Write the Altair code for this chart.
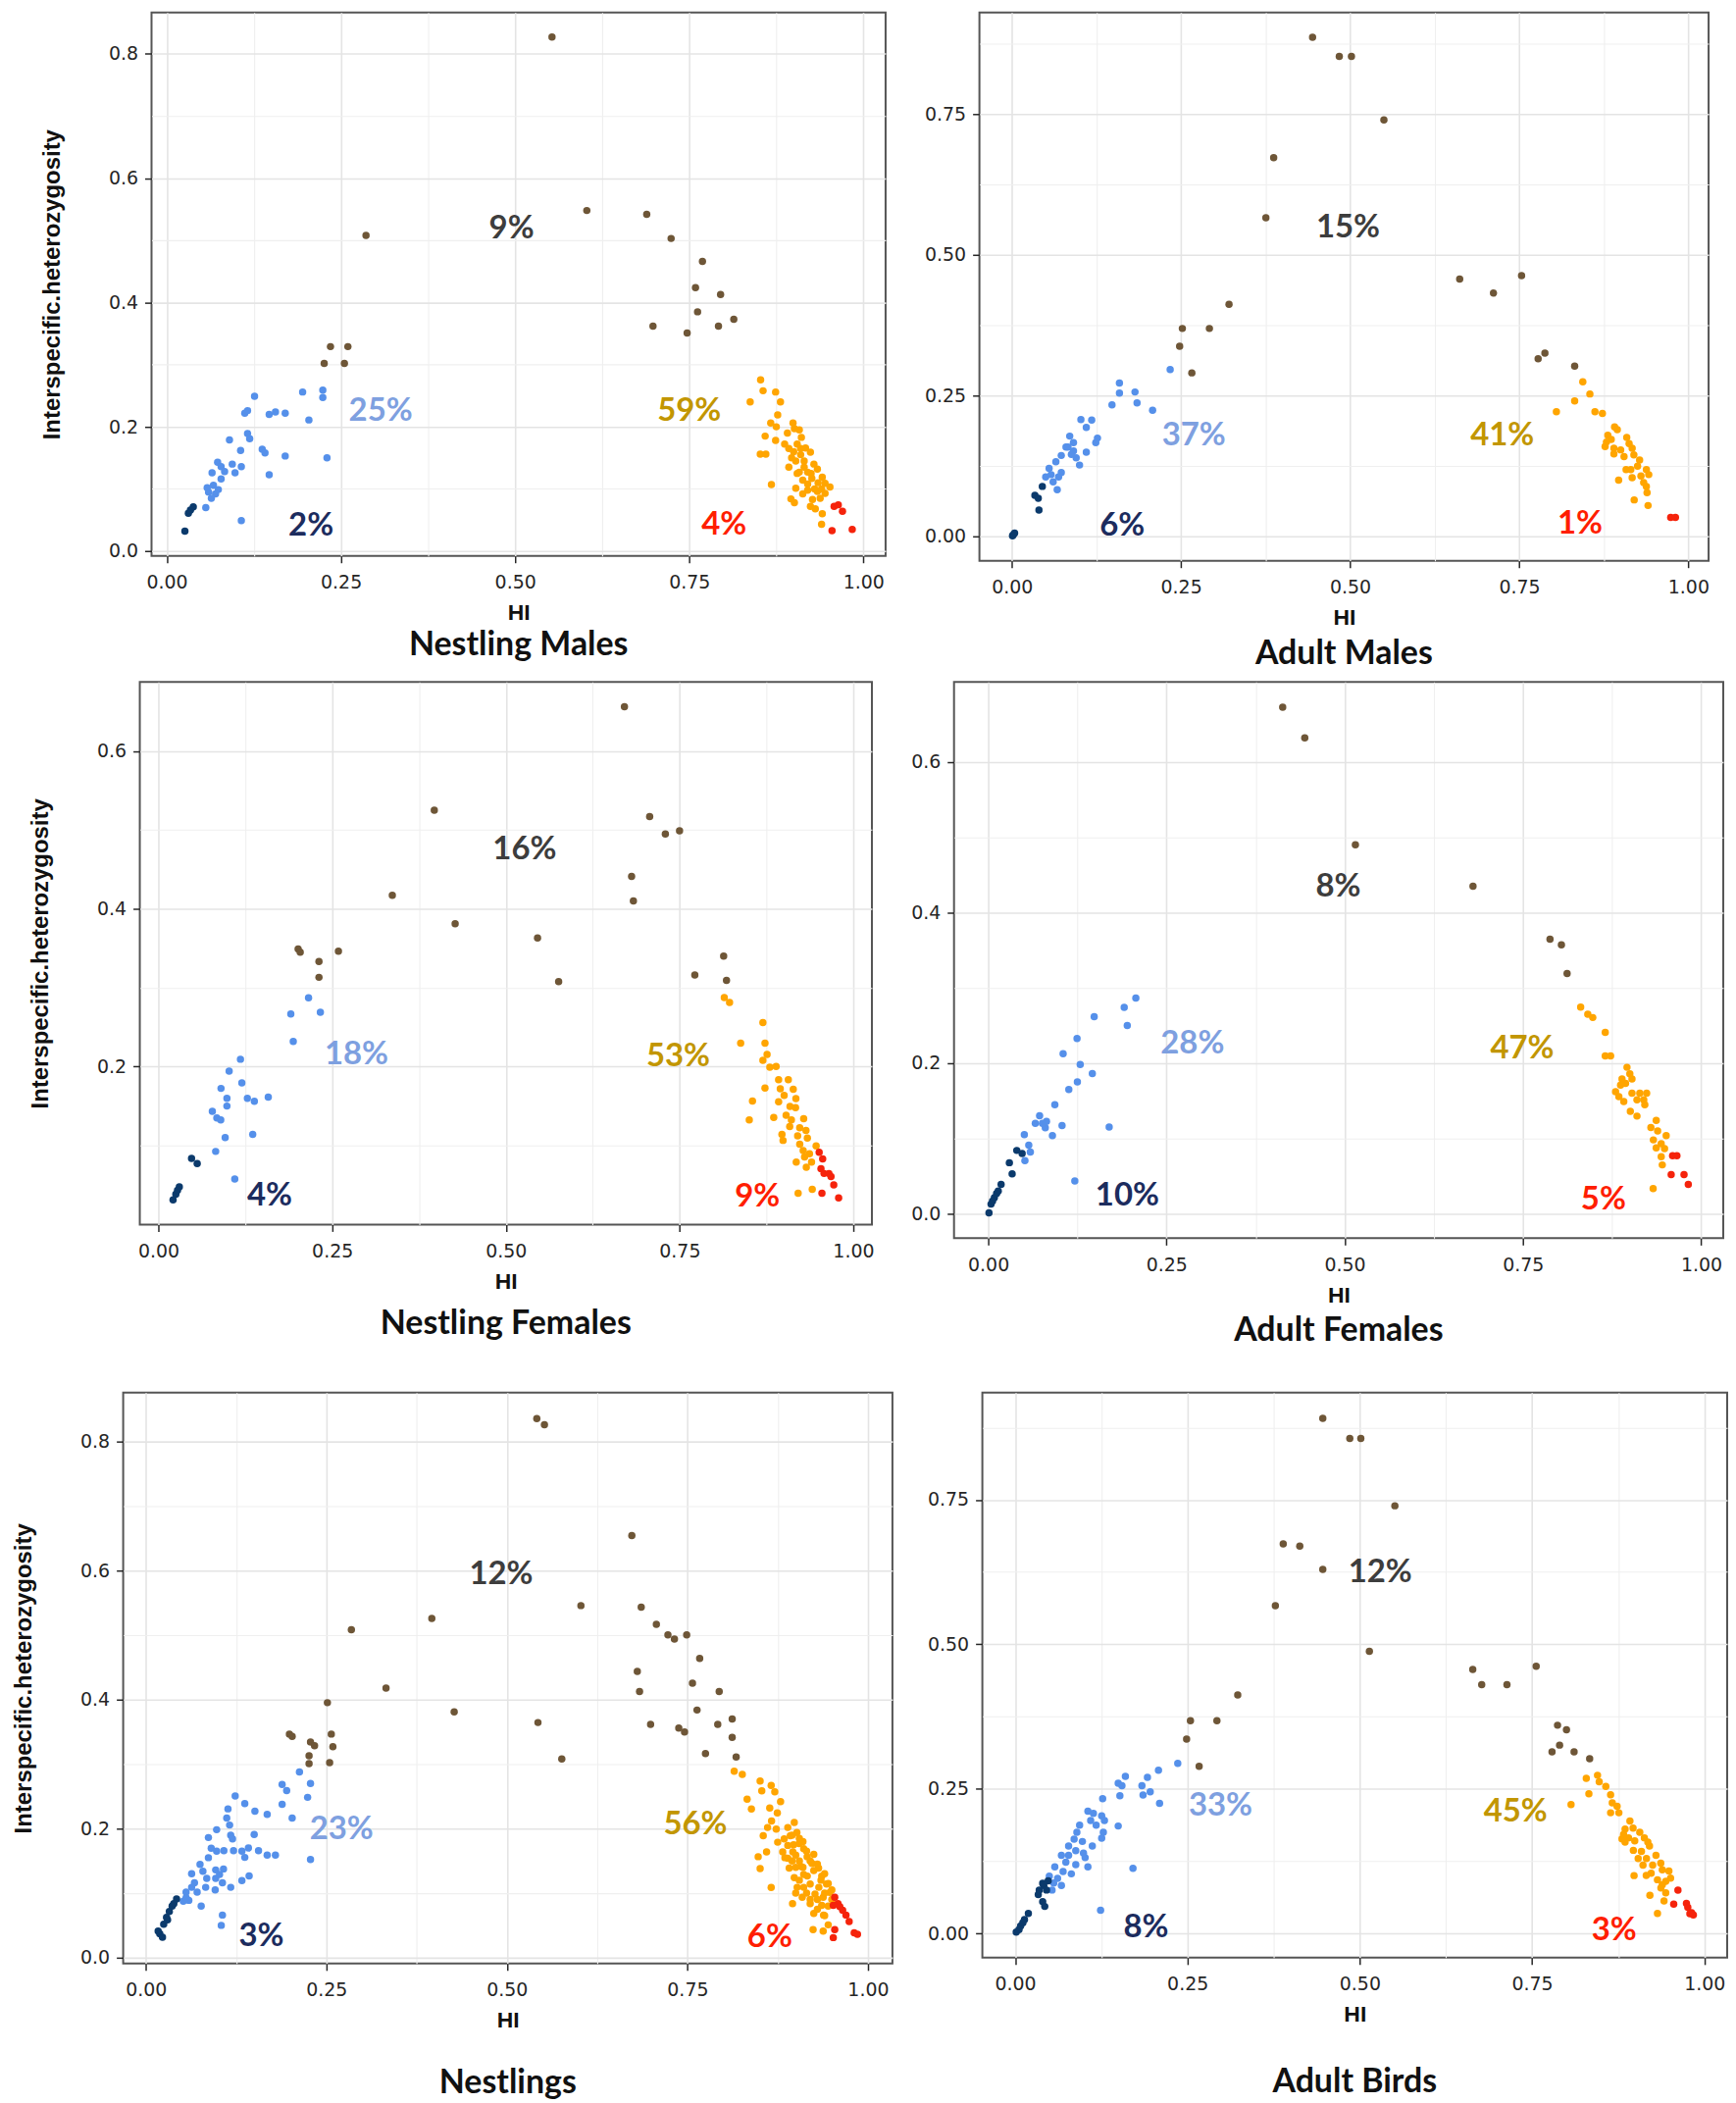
import altair as alt
import pandas as pd

# ---------------- colours ----------------
GROUPS = ["navy", "blue", "brown", "orange", "red"]
POINT_COLORS = ["#0b3a6c", "#5590ea", "#6e5637", "#ffa500", "#f5230b"]
LABEL_COLORS = ["#1c2c5e", "#7ea0e0", "#3d3d3d", "#c29600", "#ff1e00"]
DRAW_ORDER = {"blue": 0, "navy": 1, "brown": 2, "orange": 3, "red": 4}

X_MAJOR = [0.0, 0.25, 0.5, 0.75, 1.0]
X_MINOR = [0.125, 0.375, 0.625, 0.875]

# ---------------- Nestling Males ----------------
NM_NAVY = [(0.026, 0.032), (0.031, 0.061), (0.034, 0.066), (0.038, 0.071)]
NM_BLUE = [(0.126, 0.249), (0.195, 0.256), (0.224, 0.259), (0.224, 0.247), (0.112, 0.222), (0.116, 0.226),
           (0.147, 0.220), (0.156, 0.224), (0.170, 0.222), (0.204, 0.211), (0.090, 0.179), (0.116, 0.189),
           (0.119, 0.181), (0.106, 0.162), (0.137, 0.164), (0.141, 0.158), (0.170, 0.153), (0.230, 0.150),
           (0.073, 0.143), (0.078, 0.136), (0.065, 0.126), (0.094, 0.140), (0.107, 0.136), (0.098, 0.126),
           (0.147, 0.123), (0.058, 0.102), (0.067, 0.106), (0.070, 0.092), (0.064, 0.085), (0.056, 0.070),
           (0.107, 0.049), (0.078, 0.116), (0.074, 0.099), (0.060, 0.095), (0.083, 0.128)]
NM_BROWN = [(0.553, 0.827), (0.603, 0.548), (0.689, 0.542), (0.724, 0.503), (0.769, 0.466), (0.759, 0.424),
            (0.795, 0.413), (0.762, 0.385), (0.814, 0.373), (0.698, 0.362), (0.792, 0.362), (0.747, 0.351),
            (0.286, 0.508), (0.235, 0.329), (0.260, 0.329), (0.226, 0.302), (0.255, 0.302)]
NM_ORANGE = [(0.8525, 0.2756), (0.856, 0.258), (0.874, 0.256), (0.8375, 0.240), (0.881, 0.240), (0.877, 0.219),
             (0.867, 0.206), (0.875, 0.200), (0.899, 0.206), (0.901, 0.197), (0.859, 0.185), (0.874, 0.178),
             (0.891, 0.190), (0.908, 0.195), (0.911, 0.183), (0.852, 0.156), (0.860, 0.156), (0.887, 0.172),
             (0.893, 0.165), (0.905, 0.172), (0.917, 0.166), (0.924, 0.159), (0.893, 0.135), (0.903, 0.145),
             (0.915, 0.145), (0.929, 0.140), (0.934, 0.132), (0.908, 0.127), (0.920, 0.127), (0.913, 0.114),
             (0.926, 0.117), (0.941, 0.119), (0.945, 0.109), (0.952, 0.103), (0.903, 0.101), (0.920, 0.098),
             (0.934, 0.096), (0.945, 0.093), (0.868, 0.107), (0.896, 0.084), (0.901, 0.078), (0.924, 0.072),
             (0.931, 0.068), (0.941, 0.060), (0.940, 0.043), (0.927, 0.083), (0.913, 0.092), (0.938, 0.085),
             (0.897, 0.150), (0.910, 0.155), (0.915, 0.135), (0.925, 0.125), (0.935, 0.110), (0.920, 0.108),
             (0.905, 0.125), (0.930, 0.100), (0.940, 0.100), (0.910, 0.165), (0.900, 0.160)]
NM_RED = [(0.958, 0.072), (0.964, 0.0745), (0.970, 0.064), (0.955, 0.033), (0.984, 0.035)]
NM_LABELS = [("2%", "navy", 0.207, 0.040), ("25%", "blue", 0.307, 0.226), ("9%", "brown", 0.495, 0.519),
             ("59%", "orange", 0.750, 0.225), ("4%", "red", 0.800, 0.042)]

# ---------------- Adult Males ----------------
AM_NAVY = [(0.045, 0.088), (0.034, 0.072), (0.039, 0.067), (0.040, 0.046), (0.001, 0.000), (0.004, 0.005),
           (0.002, 0.002)]
AM_BLUE = [(0.234, 0.296), (0.159, 0.272), (0.159, 0.254), (0.182, 0.256), (0.185, 0.2365), (0.148, 0.233),
           (0.208, 0.2235), (0.102, 0.207), (0.118, 0.206), (0.110, 0.193), (0.1265, 0.174), (0.124, 0.166),
           (0.0855, 0.1775), (0.091, 0.166), (0.080, 0.158), (0.091, 0.151), (0.110, 0.149), (0.073, 0.143),
           (0.095, 0.139), (0.100, 0.126), (0.065, 0.132), (0.055, 0.120), (0.073, 0.1125), (0.050, 0.105),
           (0.061, 0.096), (0.067, 0.082), (0.083, 0.158), (0.088, 0.145), (0.069, 0.105), (0.058, 0.109)]
AM_BROWN = [(0.4445, 0.887), (0.484, 0.853), (0.502, 0.853), (0.550, 0.740), (0.387, 0.673), (0.3755, 0.566),
            (0.662, 0.457), (0.712, 0.432), (0.7535, 0.463), (0.321, 0.412), (0.252, 0.369), (0.292, 0.369),
            (0.248, 0.3375), (0.266, 0.290), (0.778, 0.315), (0.788, 0.325), (0.832, 0.302)]
AM_ORANGE = [(0.844, 0.274), (0.8545, 0.2525), (0.832, 0.240), (0.862, 0.221), (0.873, 0.218), (0.891, 0.194),
             (0.895, 0.189), (0.881, 0.179), (0.879, 0.167), (0.886, 0.1715), (0.909, 0.175), (0.9125, 0.164),
             (0.877, 0.159), (0.890, 0.156), (0.900, 0.153), (0.917, 0.156), (0.890, 0.146), (0.905, 0.141),
             (0.9195, 0.144), (0.928, 0.135), (0.908, 0.118), (0.915, 0.118), (0.925, 0.124), (0.938, 0.118),
             (0.9415, 0.109), (0.917, 0.1035), (0.930, 0.1065), (0.897, 0.099), (0.934, 0.095), (0.938, 0.088),
             (0.939, 0.077), (0.920, 0.064), (0.9405, 0.054), (0.805, 0.221)]
AM_RED = [(0.974, 0.033), (0.981, 0.033)]
AM_LABELS = [("6%", "navy", 0.163, 0.018), ("37%", "blue", 0.269, 0.178), ("15%", "brown", 0.497, 0.549),
             ("41%", "orange", 0.725, 0.178), ("1%", "red", 0.840, 0.021)]

# ---------------- Nestling Females ----------------
NF_NAVY = [(0.0476, 0.083), (0.0557, 0.0765), (0.030, 0.047), (0.025, 0.0377), (0.021, 0.0305), (0.0274, 0.0427)]
NF_BLUE = [(0.216, 0.287), (0.1905, 0.2665), (0.233, 0.2687), (0.194, 0.2316), (0.118, 0.209), (0.1017, 0.194),
           (0.120, 0.179), (0.090, 0.172), (0.0985, 0.1595), (0.0985, 0.1496), (0.128, 0.1595), (0.138, 0.1557),
           (0.158, 0.161), (0.0775, 0.143), (0.084, 0.1346), (0.0896, 0.132), (0.096, 0.1097), (0.1356, 0.1136),
           (0.0823, 0.092), (0.1098, 0.057)]
NF_BROWN = [(0.6707, 0.6565), (0.397, 0.525), (0.707, 0.517), (0.7296, 0.495), (0.750, 0.499), (0.681, 0.441),
            (0.6836, 0.410), (0.3366, 0.417), (0.427, 0.381), (0.5456, 0.363), (0.576, 0.3075), (0.201, 0.349),
            (0.204, 0.345), (0.231, 0.333), (0.259, 0.346), (0.231, 0.313), (0.772, 0.316), (0.8135, 0.340),
            (0.8176, 0.309)]
NF_ORANGE = [(0.8144, 0.2874), (0.822, 0.281), (0.870, 0.2556), (0.838, 0.2295), (0.873, 0.2295), (0.876, 0.215),
             (0.870, 0.2076), (0.880, 0.199), (0.889, 0.1998), (0.8926, 0.183), (0.9066, 0.183), (0.873, 0.1724),
             (0.895, 0.1715), (0.9137, 0.171), (0.9006, 0.163), (0.9175, 0.159), (0.855, 0.156), (0.8926, 0.155),
             (0.909, 0.149), (0.917, 0.1475), (0.9034, 0.138), (0.8504, 0.132), (0.8856, 0.135), (0.911, 0.132),
             (0.9287, 0.1335), (0.9086, 0.1235), (0.923, 0.122), (0.932, 0.1185), (0.8974, 0.1136), (0.899, 0.106),
             (0.920, 0.1118), (0.934, 0.109), (0.923, 0.1012), (0.928, 0.093), (0.9466, 0.099), (0.918, 0.0785),
             (0.9325, 0.072), (0.940, 0.0785), (0.9207, 0.039), (0.941, 0.044), (0.937, 0.089), (0.930, 0.085)]
NF_RED = [(0.951, 0.091), (0.956, 0.0826), (0.9536, 0.070), (0.958, 0.064), (0.965, 0.064), (0.968, 0.060),
          (0.972, 0.0496), (0.955, 0.039), (0.979, 0.033)]
NF_LABELS = [("4%", "navy", 0.160, 0.036), ("18%", "blue", 0.285, 0.215), ("16%", "brown", 0.527, 0.475),
             ("53%", "orange", 0.748, 0.212), ("9%", "red", 0.862, 0.034)]

# ---------------- Adult Females ----------------
AF_NAVY = [(0.040, 0.084), (0.0475, 0.080), (0.0296, 0.0677), (0.0335, 0.053), (0.018, 0.039), (0.014, 0.030),
           (0.0086, 0.0214), (0.0039, 0.0127), (0.001, 0.001), (0.0117, 0.027), (0.006, 0.0168)]
AF_BLUE = [(0.207, 0.2865), (0.1907, 0.274), (0.195, 0.250), (0.1486, 0.2616), (0.1245, 0.2326), (0.129, 0.198),
           (0.146, 0.186), (0.125, 0.175), (0.105, 0.2124), (0.113, 0.165), (0.0934, 0.1447), (0.1035, 0.117),
           (0.1696, 0.115), (0.072, 0.130), (0.0817, 0.1227), (0.066, 0.120), (0.080, 0.114), (0.090, 0.1036),
           (0.0506, 0.105), (0.0568, 0.091), (0.059, 0.082), (0.0514, 0.0706), (0.1214, 0.0434), (0.076, 0.120)]
AF_BROWN = [(0.413, 0.6725), (0.444, 0.632), (0.515, 0.490), (0.680, 0.435), (0.788, 0.3646), (0.804, 0.357),
            (0.812, 0.319)]
AF_ORANGE = [(0.831, 0.2744), (0.841, 0.265), (0.848, 0.2605), (0.8655, 0.2407), (0.8655, 0.2096), (0.873, 0.2096),
             (0.896, 0.1944), (0.900, 0.1857), (0.889, 0.179), (0.903, 0.179), (0.887, 0.1707), (0.894, 0.173),
             (0.880, 0.162), (0.8846, 0.1555), (0.903, 0.160), (0.914, 0.160), (0.9236, 0.160), (0.8915, 0.149),
             (0.910, 0.1513), (0.9195, 0.1513), (0.9007, 0.136), (0.910, 0.1296), (0.921, 0.1447), (0.937, 0.124),
             (0.9295, 0.1145), (0.939, 0.110), (0.951, 0.1037), (0.933, 0.098), (0.944, 0.093), (0.937, 0.0875),
             (0.9487, 0.0864), (0.944, 0.0757), (0.9455, 0.0648), (0.9327, 0.0333)]
AF_RED = [(0.960, 0.077), (0.966, 0.077), (0.958, 0.052), (0.976, 0.052), (0.982, 0.039)]
AF_LABELS = [("10%", "navy", 0.195, 0.024), ("28%", "blue", 0.2864, 0.226), ("8%", "brown", 0.491, 0.434),
             ("47%", "orange", 0.749, 0.219), ("5%", "red", 0.863, 0.019)]

# ---------------- Nestlings ----------------
N_NAVY = [(0.0425, 0.091), (0.0364, 0.080), (0.0325, 0.0716), (0.0286, 0.0623), (0.0247, 0.0516), (0.0193, 0.037),
          (0.023, 0.0315), (0.017, 0.041), (0.030, 0.0587), (0.0387, 0.0838)]
N_BLUE = [(0.2127, 0.288), (0.1887, 0.2686), (0.195, 0.259), (0.228, 0.270), (0.224, 0.2486), (0.1887, 0.2378),
          (0.1237, 0.2507), (0.137, 0.239), (0.168, 0.222), (0.151, 0.227), (0.2026, 0.2163), (0.1137, 0.2307),
          (0.112, 0.2163), (0.116, 0.2056), (0.098, 0.1984), (0.1175, 0.190), (0.120, 0.184), (0.150, 0.191),
          (0.0866, 0.1862), (0.228, 0.152), (0.168, 0.159), (0.1794, 0.159), (0.156, 0.166), (0.0905, 0.1698),
          (0.098, 0.165), (0.108, 0.166), (0.1214, 0.166), (0.133, 0.165), (0.142, 0.170), (0.137, 0.1554),
          (0.0866, 0.155), (0.075, 0.1447), (0.0634, 0.130), (0.079, 0.134), (0.0967, 0.136), (0.1075, 0.1375),
          (0.0843, 0.123), (0.0967, 0.123), (0.106, 0.116), (0.102, 0.129), (0.143, 0.1268), (0.133, 0.1196),
          (0.0828, 0.109), (0.0634, 0.109), (0.0557, 0.1017), (0.071, 0.1017), (0.0595, 0.0888), (0.0518, 0.0874),
          (0.0766, 0.080), (0.0557, 0.093), (0.106, 0.066), (0.1044, 0.050), (0.0673, 0.116), (0.096, 0.105),
          (0.1175, 0.109)]
N_BROWN = [(0.5414, 0.836), (0.552, 0.8266), (0.673, 0.6547), (0.6025, 0.546), (0.686, 0.5437), (0.707, 0.517),
           (0.723, 0.5007), (0.732, 0.494), (0.749, 0.5007), (0.767, 0.464), (0.6806, 0.444), (0.757, 0.4255),
           (0.6837, 0.4126), (0.794, 0.4126), (0.7633, 0.384), (0.812, 0.370), (0.699, 0.3617), (0.792, 0.3617),
           (0.738, 0.356), (0.746, 0.350), (0.812, 0.3417), (0.775, 0.3166), (0.8175, 0.311), (0.396, 0.526),
           (0.2846, 0.5086), (0.3326, 0.418), (0.427, 0.381), (0.543, 0.3646), (0.576, 0.308), (0.2514, 0.3954),
           (0.1988, 0.3467), (0.2026, 0.343), (0.228, 0.3345), (0.2336, 0.3288), (0.2568, 0.3467), (0.259, 0.327),
           (0.226, 0.313), (0.226, 0.3009), (0.2545, 0.3023)]
N_ORANGE = [(0.8148, 0.289), (0.826, 0.284), (0.8507, 0.274), (0.853, 0.2588), (0.866, 0.267), (0.871, 0.257),
            (0.8327, 0.2456), (0.8386, 0.2305), (0.879, 0.242), (0.864, 0.232), (0.8745, 0.2245), (0.8665, 0.212),
            (0.898, 0.2096), (0.861, 0.2018), (0.873, 0.1993), (0.889, 0.2018), (0.855, 0.189), (0.875, 0.179),
            (0.8925, 0.189), (0.9016, 0.194), (0.848, 0.1565), (0.8596, 0.164), (0.889, 0.174), (0.9046, 0.1767),
            (0.911, 0.169), (0.8507, 0.138), (0.889, 0.154), (0.900, 0.159), (0.9158, 0.1565), (0.9225, 0.146),
            (0.891, 0.139), (0.907, 0.1415), (0.9316, 0.139), (0.898, 0.124), (0.916, 0.1265), (0.936, 0.1264),
            (0.866, 0.1087), (0.902, 0.109), (0.920, 0.114), (0.9427, 0.114), (0.909, 0.0936), (0.9267, 0.0986),
            (0.947, 0.101), (0.8956, 0.0836), (0.920, 0.0836), (0.936, 0.081), (0.925, 0.0685), (0.9385, 0.066),
            (0.924, 0.0433), (0.938, 0.041), (0.945, 0.0508), (0.884, 0.184), (0.896, 0.164), (0.911, 0.129),
            (0.932, 0.109), (0.911, 0.109), (0.938, 0.0936), (0.882, 0.164),
            (0.895, 0.190), (0.905, 0.185), (0.897, 0.175), (0.910, 0.180), (0.915, 0.165), (0.920, 0.150),
            (0.930, 0.145), (0.925, 0.135), (0.940, 0.130), (0.935, 0.120), (0.945, 0.115), (0.950, 0.105),
            (0.940, 0.100), (0.930, 0.090), (0.915, 0.100), (0.905, 0.120), (0.900, 0.140), (0.895, 0.150),
            (0.885, 0.155), (0.950, 0.090), (0.945, 0.080), (0.930, 0.075), (0.940, 0.065), (0.920, 0.090),
            (0.900, 0.100), (0.910, 0.140), (0.925, 0.160), (0.905, 0.150)]
N_RED = [(0.954, 0.0936), (0.9585, 0.0836), (0.952, 0.081), (0.965, 0.0735), (0.9696, 0.066), (0.974, 0.056),
         (0.954, 0.0433), (0.952, 0.031), (0.981, 0.0383), (0.9855, 0.036), (0.961, 0.079)]
N_LABELS = [("3%", "navy", 0.160, 0.0335), ("23%", "blue", 0.271, 0.199), ("12%", "brown", 0.492, 0.595),
            ("56%", "orange", 0.761, 0.207), ("6%", "red", 0.864, 0.031)]

# ---------------- Adult Birds ----------------
AB_NAVY = [(0.048, 0.091), (0.0416, 0.083), (0.035, 0.075), (0.0336, 0.067), (0.040, 0.0547), (0.043, 0.0466),
           (0.0192, 0.0346), (0.0136, 0.024), (0.008, 0.0129), (0.0016, 0.0024), (0.0056, 0.0064), (0.0112, 0.0185),
           (0.0456, 0.075), (0.040, 0.0868)]
AB_BLUE = [(0.236, 0.294), (0.208, 0.282), (0.160, 0.2717), (0.1496, 0.2596), (0.155, 0.2556), (0.192, 0.270),
           (0.184, 0.2556), (0.196, 0.245), (0.1856, 0.2395), (0.2096, 0.225), (0.152, 0.238), (0.127, 0.233),
           (0.1056, 0.2114), (0.1136, 0.2074), (0.1256, 0.2034), (0.1096, 0.1953), (0.1296, 0.1953), (0.1496, 0.1857),
           (0.0896, 0.175), (0.128, 0.175), (0.1256, 0.1648), (0.0856, 0.163), (0.0976, 0.159), (0.112, 0.151),
           (0.0776, 0.151), (0.088, 0.143), (0.0672, 0.135), (0.1016, 0.131), (0.0736, 0.123), (0.088, 0.119),
           (0.1056, 0.115), (0.0576, 0.115), (0.0696, 0.107), (0.0816, 0.103), (0.0616, 0.095), (0.0496, 0.099),
           (0.056, 0.087), (0.0672, 0.083), (0.0536, 0.075), (0.171, 0.1125), (0.124, 0.040), (0.0776, 0.135),
           (0.0992, 0.139), (0.0936, 0.187), (0.1176, 0.187)]
AB_BROWN = [(0.4464, 0.8907), (0.4856, 0.856), (0.5016, 0.856), (0.551, 0.7395), (0.389, 0.6736), (0.413, 0.6696),
            (0.4464, 0.6294), (0.3776, 0.5667), (0.514, 0.488), (0.664, 0.4566), (0.677, 0.430), (0.7136, 0.430),
            (0.756, 0.462), (0.323, 0.4124), (0.2544, 0.368), (0.2928, 0.368), (0.2488, 0.336), (0.267, 0.289),
            (0.787, 0.360), (0.800, 0.352), (0.779, 0.314), (0.790, 0.3256), (0.811, 0.314), (0.8336, 0.302)]
AB_ORANGE = [(0.8287, 0.268), (0.845, 0.2735), (0.8475, 0.2623), (0.857, 0.254), (0.8325, 0.2413), (0.8066, 0.2227),
             (0.864, 0.2396), (0.8664, 0.2256), (0.8734, 0.220), (0.864, 0.2086), (0.876, 0.2086), (0.892, 0.1945),
             (0.885, 0.1803), (0.8966, 0.1822), (0.8805, 0.1634), (0.890, 0.1653), (0.9063, 0.1747), (0.913, 0.1653),
             (0.885, 0.1577), (0.899, 0.160), (0.918, 0.1578), (0.897, 0.1437), (0.9087, 0.1418), (0.9204, 0.151),
             (0.904, 0.1295), (0.916, 0.1295), (0.9298, 0.135), (0.911, 0.118), (0.925, 0.118), (0.9368, 0.1215),
             (0.9228, 0.104), (0.939, 0.110), (0.9486, 0.108), (0.898, 0.100), (0.9157, 0.1004), (0.932, 0.0928),
             (0.944, 0.090), (0.937, 0.0787), (0.944, 0.0702), (0.9415, 0.056), (0.921, 0.066), (0.932, 0.0346),
             (0.951, 0.0955), (0.939, 0.0843), (0.8828, 0.1709)]
AB_RED = [(0.9617, 0.0747), (0.9556, 0.0505), (0.974, 0.052), (0.976, 0.045), (0.9814, 0.036), (0.979, 0.034),
          (0.984, 0.032)]
AB_LABELS = [("8%", "navy", 0.190, 0.0105), ("33%", "blue", 0.298, 0.220), ("12%", "brown", 0.5296, 0.624),
             ("45%", "orange", 0.726, 0.2105), ("3%", "red", 0.869, 0.006)]

GRID_MAJOR = "#e4e4e4"
GRID_MINOR = "#efefef"
TEXT_DARK = "#262626"


def cond(test, yes, no):
    return {"condition": {"test": test, "value": yes}, "value": no}


def anchor(px, py):
    # invisible 1px text mark used only to fix the panel's layout bounds (top)
    return alt.Chart(pd.DataFrame({"a": [0]})).mark_text(
        text=".", fontSize=1, opacity=0, align="left", baseline="top").encode(
        x=alt.value(px), y=alt.value(py))


def make_panel(title, groups, labels, w, h, ymaj, ymin, k, yfmt, left, toff, anchors=()):
    rows = []
    for gname, pts in zip(GROUPS, groups):
        for (hx, hy) in pts:
            rows.append({"HI": hx, "het": hy, "grp": gname, "ord": DRAW_ORDER[gname]})
    df = pd.DataFrame(rows)
    xs, ys = df["HI"], df["het"]
    rx = xs.max() - xs.min()
    ry = ys.max() - ys.min()
    xdom = [float(xs.min() - 0.05 * rx), float(xs.max() + 0.05 * rx)]
    ydom = [float(ys.min() - 0.05 * ry), float(ys.max() + 0.05 * ry)]

    ltab = pd.DataFrame([{"t": t, "grp": g, "HI": x, "het": y} for (t, g, x, y) in labels])

    xtest = "abs(datum.value*4 - round(datum.value*4)) < 0.001"
    ytest = f"abs(datum.value*{k} - round(datum.value*{k})) < 0.001"

    xaxis = alt.Axis(
        values=sorted(X_MAJOR + X_MINOR), title="HI",
        labelExpr=f"({xtest}) ? format(datum.value, '.2f') : ''",
        tickOpacity=cond(xtest, 1, 0), gridColor=cond(xtest, GRID_MAJOR, GRID_MINOR),
        gridWidth=cond(xtest, 1.6, 1.1), labelOverlap=False, labelFlush=False,
        tickSize=7, tickWidth=1.5, tickColor=TEXT_DARK, labelPadding=11,
        labelFont="DejaVu Sans", labelFontSize=19, labelColor=TEXT_DARK,
        titleFont="Liberation Sans", titleFontSize=23, titleFontWeight="bold", titleColor="#111111",
        titlePadding=11, minExtent=36, maxExtent=36, domain=False)

    yargs = dict(
        values=sorted(ymaj + ymin),
        labelExpr=f"({ytest}) ? format(datum.value, '{yfmt}') : ''",
        tickOpacity=cond(ytest, 1, 0), gridColor=cond(ytest, GRID_MAJOR, GRID_MINOR),
        gridWidth=cond(ytest, 1.6, 1.1), labelOverlap=False, labelFlush=False,
        tickSize=7, tickWidth=1.5, tickColor=TEXT_DARK, labelPadding=7,
        labelFont="DejaVu Sans", labelFontSize=19, labelColor=TEXT_DARK, domain=False)
    if left:
        yaxis = alt.Axis(title="Interspecific.heterozygosity", titleFont="Liberation Sans", titleFontSize=24,
                         titleFontWeight="bold", titleColor="#111111", titlePadding=44,
                         minExtent=45, maxExtent=45, **yargs)
    else:
        yaxis = alt.Axis(title=None, minExtent=55, maxExtent=55, **yargs)

    xsc = alt.Scale(domain=xdom, nice=False, zero=False)
    ysc = alt.Scale(domain=ydom, nice=False, zero=False)

    pts = alt.Chart(df).mark_circle(size=56, opacity=1).encode(
        x=alt.X("HI:Q", scale=xsc, axis=xaxis),
        y=alt.Y("het:Q", scale=ysc, axis=yaxis),
        color=alt.Color("grp:N", scale=alt.Scale(domain=GROUPS, range=POINT_COLORS), legend=None),
        order=alt.Order("ord:Q"),
    )
    txt = alt.Chart(ltab).mark_text(font="Lato", fontSize=33, fontWeight="bold", align="center",
                                    baseline="middle").encode(
        x=alt.X("HI:Q", scale=xsc),
        y=alt.Y("het:Q", scale=ysc),
        text="t:N",
        color=alt.Color("grp:N", scale=alt.Scale(domain=GROUPS, range=LABEL_COLORS), legend=None),
    )
    layers = [pts, txt] + [anchor(ax, ay) for (ax, ay) in anchors]
    return alt.layer(*layers).resolve_scale(color="independent").properties(
        width=w, height=h,
        title=alt.TitleParams(text=title, orient="bottom", offset=toff, font="Lato", fontSize=34,
                              fontWeight="bold", color="#111111", anchor="middle", frame="group"))


def spacer(w):
    return alt.Chart(pd.DataFrame({"v": [0]})).mark_point(opacity=0, size=1).encode(
        x=alt.value(w / 2), y=alt.value(2)).properties(
        width=w, height=4, view=alt.ViewBackground(stroke="transparent"))


Y_02_MAJ = [0.0, 0.2, 0.4, 0.6, 0.8]
Y_02_MIN = [0.1, 0.3, 0.5, 0.7]
Y_025_MAJ = [0.0, 0.25, 0.5, 0.75]
Y_025_MIN = [0.125, 0.375, 0.625, 0.875]

p1 = make_panel("Nestling Males", [NM_NAVY, NM_BLUE, NM_BROWN, NM_ORANGE, NM_RED], NM_LABELS,
                751, 556, Y_02_MAJ, Y_02_MIN, 5, ".1f", True, 5)
p2 = make_panel("Adult Males", [AM_NAVY, AM_BLUE, AM_BROWN, AM_ORANGE, AM_RED], AM_LABELS,
                746, 561, Y_025_MAJ, Y_025_MIN, 4, ".2f", False, 8.6)
p3 = make_panel("Nestling Females", [NF_NAVY, NF_BLUE, NF_BROWN, NF_ORANGE, NF_RED], NF_LABELS,
                749, 555, [0.2, 0.4, 0.6], [0.1, 0.3, 0.5], 5, ".1f", True, 15.2)
p4 = make_panel("Adult Females", [AF_NAVY, AF_BLUE, AF_BROWN, AF_ORANGE, AF_RED], AF_LABELS,
                787, 569, [0.0, 0.2, 0.4, 0.6], [0.1, 0.3, 0.5], 5, ".1f", False, 8)
p5 = make_panel("Nestlings", [N_NAVY, N_BLUE, N_BROWN, N_ORANGE, N_RED], N_LABELS,
                787, 584, Y_02_MAJ, Y_02_MIN, 5, ".1f", True, 36, anchors=[(0, -35)])
p6 = make_panel("Adult Birds", [AB_NAVY, AB_BLUE, AB_BROWN, AB_ORANGE, AB_RED], AB_LABELS,
                762, 578, Y_025_MAJ, Y_025_MIN, 4, ".2f", False, 41)

row1 = alt.hconcat(spacer(31), alt.hconcat(p1, p2, spacing=37), spacing=0)
row2 = alt.hconcat(spacer(19), alt.hconcat(p3, p4, spacing=24), spacing=0)
row3 = alt.hconcat(spacer(2), alt.hconcat(p5, p6, spacing=33), spacing=0)

chart = alt.vconcat(row1, row2, row3, spacing=9).properties(
    padding={"left": 0, "top": 0, "right": 0, "bottom": 0}
).configure(background="white").configure_view(stroke="#555555", strokeWidth=2)

chart.save("out.html", embed_options={"renderer": "svg", "actions": False})
